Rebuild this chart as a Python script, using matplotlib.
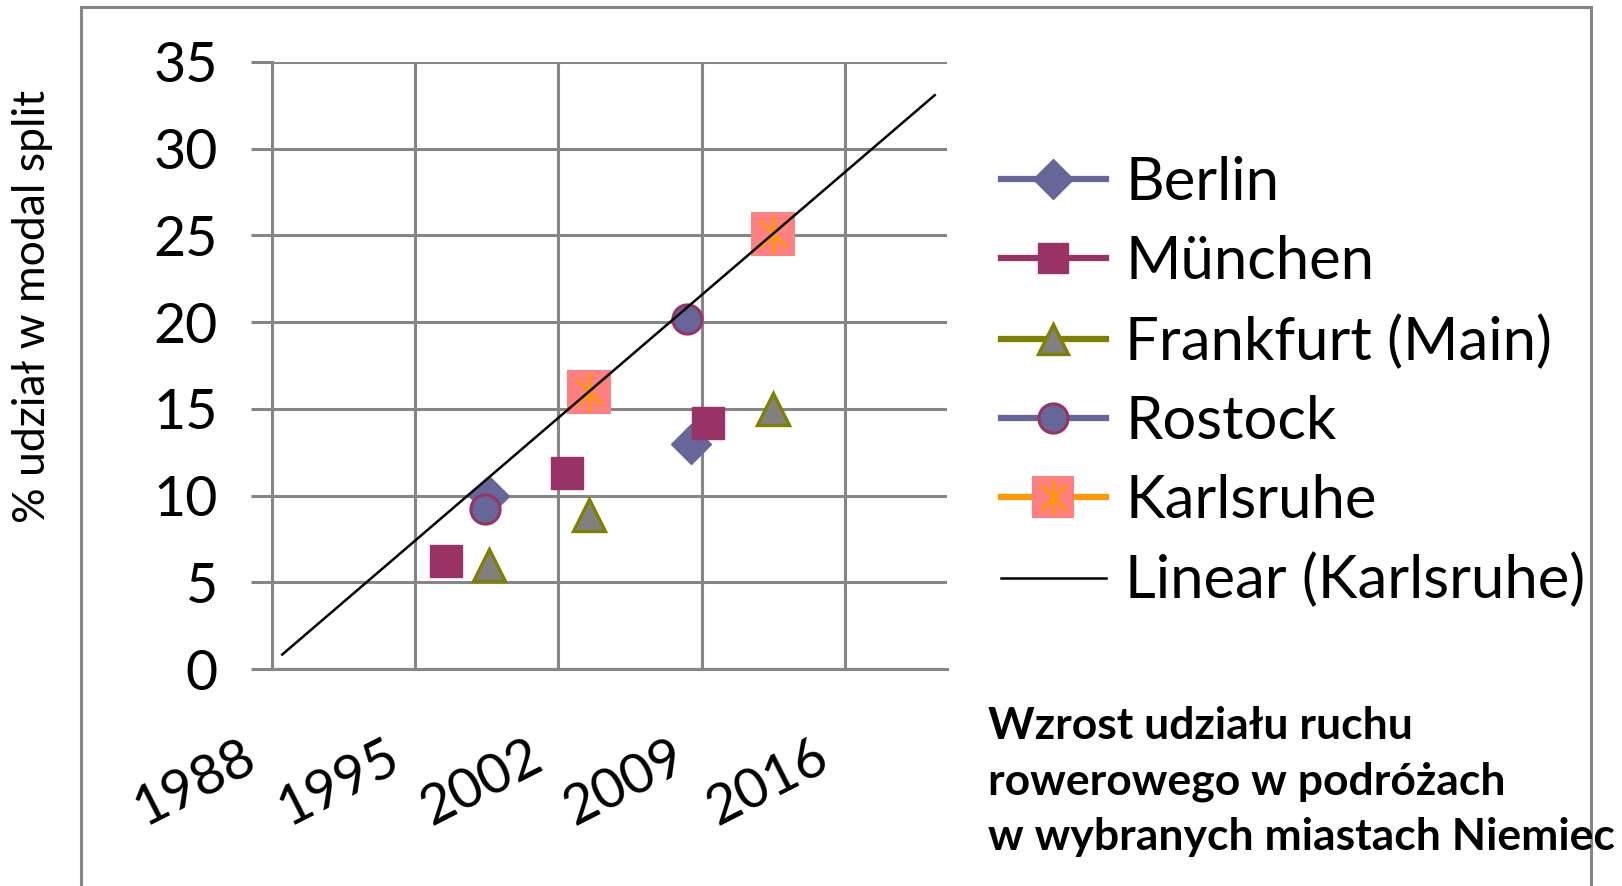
import matplotlib
matplotlib.use("Agg")
import matplotlib.pyplot as plt
import matplotlib.transforms as mtransforms
from matplotlib.lines import Line2D
from matplotlib.patches import Rectangle
import numpy as np

# values (year, % share of cycling in modal split)
berlin_x = [1998.6, 2008.5]
berlin_y = [10.0, 13.0]
munchen_x = [1996.5, 2002.4, 2009.3]
munchen_y = [6.2, 11.3, 14.2]
frankfurt_x = [1998.6, 2003.5, 2012.5]
frankfurt_y = [6.0, 8.9, 15.0]
rostock_x = [1998.4, 2008.3]
rostock_y = [9.2, 20.2]
karlsruhe_x = [2003.5, 2012.5]
karlsruhe_y = [16.0, 25.1]
trend_range = [1988.5, 2020.4]   # backward / forward forecast of the trendline

year_ticks = [1988, 1995, 2002, 2009, 2016]
share_ticks = [0, 5, 10, 15, 20, 25, 30, 35]
labels = ["Berlin", "München", "Frankfurt (Main)", "Rostock", "Karlsruhe",
          "Linear (Karlsruhe)"]
title = "Wzrost udziału ruchu\nrowerowego w podróżach\nw wybranych miastach Niemiec"

plt.rcParams["font.family"] = ["Lato", "DejaVu Sans"]

W, H = 1622, 886
fig = plt.figure(figsize=(W / 100, H / 100), dpi=100)
ax = fig.add_axes([272 / W, 1 - 669 / H, (947 - 272) / W, (669 - 62) / H])

GRID = "#868686"
C_BER = "#666699"
C_MUN = "#993366"
C_OLIVE = "#808000"
C_GRAY = "#808080"
C_ORANGE = "#FF9900"
C_PINK = "#FF8080"

ax.plot(berlin_x, berlin_y, ls="none", marker="D", ms=20, mfc=C_BER, mec=C_BER, mew=1, zorder=3)
ax.plot(munchen_x, munchen_y, ls="none", marker="s", ms=23, mfc=C_MUN, mec=C_MUN, mew=1, zorder=3)
ax.plot(frankfurt_x, frankfurt_y, ls="none", marker="^", ms=23, mfc=C_GRAY, mec=C_OLIVE, mew=2.4, zorder=3)
ax.plot(rostock_x, rostock_y, ls="none", marker="o", ms=21, mfc=C_BER, mec=C_MUN, mew=2.2, zorder=3)
ax.plot(karlsruhe_x, karlsruhe_y, ls="none", marker="s", ms=31, mfc=C_PINK, mec=C_PINK, mew=0, zorder=3)
ax.plot(karlsruhe_x, karlsruhe_y, ls="none", marker="x", ms=19, mec=C_ORANGE, mew=2.2, zorder=3)
ax.plot(karlsruhe_x, karlsruhe_y, ls="none", marker="|", ms=27, mec=C_ORANGE, mew=2.2, zorder=3)

# linear trendline on the Karlsruhe series
k, b = np.polyfit(karlsruhe_x, karlsruhe_y, 1)
tx = np.array(trend_range)
ax.plot(tx, k * tx + b, color="black", lw=1.8, zorder=4)

ax.set_xlim(1988, 2021)
ax.set_ylim(0, 35)
ax.set_xticks(year_ticks)
ax.set_yticks(share_ticks)
ax.set_yticklabels([str(v) for v in share_ticks], fontsize=40)
ax.set_xticklabels([])

# rotated year labels, shifted down-left like the Excel original
trans = ax.get_xaxis_transform() + mtransforms.ScaledTranslation(-31 / 100, -62 / 100, fig.dpi_scale_trans)
for yr in year_ticks:
    ax.text(yr, 0, str(yr), transform=trans, fontsize=40, rotation=27,
            ha="right", va="top", rotation_mode="anchor")

ax.grid(True, color=GRID, lw=2.2)
ax.set_axisbelow(True)
ax.tick_params(axis="y", length=15, width=2.2, color=GRID, pad=24)
ax.tick_params(axis="x", length=0, pad=0)
for side in ("top", "right"):
    ax.spines[side].set_visible(False)
for side in ("left", "bottom"):
    ax.spines[side].set_color(GRID)
    ax.spines[side].set_linewidth(2.2)

fig.text(33 / W, 1 - 306 / H, "% udział w modal split", rotation=90,
         ha="center", va="center", fontsize=32)

handles = [
    Line2D([], [], color=C_BER, lw=4.5, marker="D", ms=20, mfc=C_BER, mec=C_BER),
    Line2D([], [], color=C_MUN, lw=4.5, marker="s", ms=22, mfc=C_MUN, mec=C_MUN),
    Line2D([], [], color=C_OLIVE, lw=4.5, marker="^", ms=22, mfc=C_GRAY, mec=C_OLIVE, mew=2.4),
    Line2D([], [], color=C_BER, lw=4.5, marker="o", ms=21, mfc=C_BER, mec=C_MUN, mew=2.2),
    (Line2D([], [], color=C_ORANGE, lw=4.5, marker="s", ms=30, mfc=C_PINK, mec=C_PINK, mew=0),
     Line2D([], [], ls="none", marker="x", ms=18, mec=C_ORANGE, mew=2.2),
     Line2D([], [], ls="none", marker="|", ms=26, mec=C_ORANGE, mew=2.2)),
    Line2D([], [], color="black", lw=1.8),
]
fig.legend(handles, labels, loc="upper left", bbox_to_anchor=(1001 / W, 1 - 156 / H),
           frameon=False, fontsize=43, handlelength=1.75, handletextpad=0.33,
           labelspacing=0.42, borderpad=0, borderaxespad=0)

fig.text(988 / W, 1 - 706 / H, title, ha="left", va="top", fontsize=32,
         fontweight="bold", linespacing=1.46)

# outer chart border
fig.add_artist(Rectangle((81 / W, -0.1), (1591 - 81) / W, 1.1 - 7 / H,
                         transform=fig.transFigure, fill=False, ec=GRID, lw=2.2))

fig.savefig("out.png", dpi=100)
